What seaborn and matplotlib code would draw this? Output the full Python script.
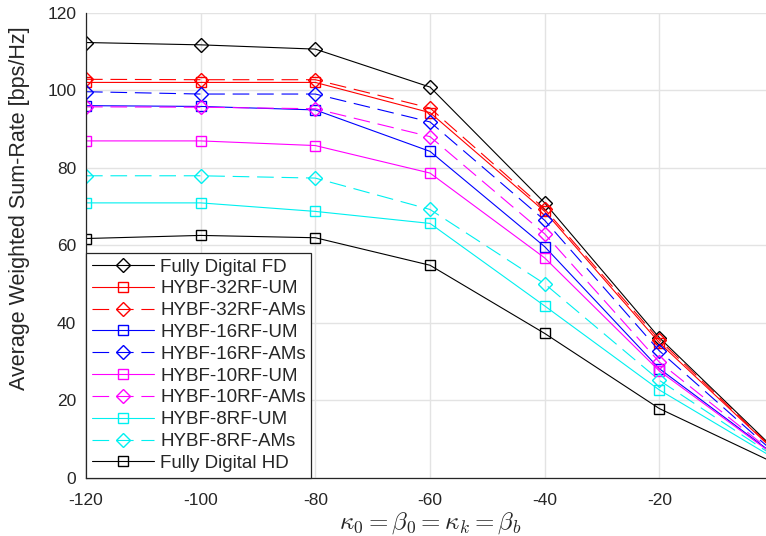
import matplotlib
matplotlib.use('Agg')
import matplotlib.pyplot as plt
import seaborn as sns

kappa = [-120, -100, -80, -60, -40, -20, 0]

fd = [112.3, 111.7, 110.6, 100.8, 70.9, 36.1, 7.5]
hybf32_um = [102.0, 102.0, 102.0, 94.2, 68.7, 34.8, 7.0]
hybf32_ams = [102.8, 102.7, 102.7, 95.4, 69.3, 35.5, 7.2]
hybf16_um = [96.0, 95.8, 94.9, 84.2, 59.6, 28.1, 6.0]
hybf16_ams = [99.6, 99.0, 99.0, 91.8, 66.4, 32.7, 6.5]
hybf10_um = [86.9, 86.9, 85.7, 78.6, 56.7, 27.5, 5.8]
hybf10_ams = [95.7, 95.6, 95.2, 88.0, 62.9, 29.8, 6.2]
hybf8_um = [70.9, 70.9, 68.7, 65.6, 44.3, 22.6, 5.0]
hybf8_ams = [77.9, 77.9, 77.3, 69.2, 50.0, 25.1, 5.5]
hd = [61.7, 62.5, 61.9, 54.8, 37.2, 17.8, 3.8]

labels = ['Fully Digital FD', 'HYBF-32RF-UM', 'HYBF-32RF-AMs', 'HYBF-16RF-UM',
          'HYBF-16RF-AMs', 'HYBF-10RF-UM', 'HYBF-10RF-AMs', 'HYBF-8RF-UM',
          'HYBF-8RF-AMs', 'Fully Digital HD']
series = [fd, hybf32_um, hybf32_ams, hybf16_um, hybf16_ams,
          hybf10_um, hybf10_ams, hybf8_um, hybf8_ams, hd]
colors = ['black', '#ff0000', '#ff0000', '#0000ff', '#0000ff',
          '#ff00ff', '#ff00ff', '#00f0f0', '#00f0f0', 'black']
markers = ['D', 's', 'D', 's', 'D', 's', 'D', 's', 'D', 's']
dash = (0, (15, 7))
styles = ['-', '-', dash, '-', dash, '-', dash, '-', dash, '-']

sns.set_style('white')
plt.rcParams['font.family'] = ['Liberation Sans', 'DejaVu Sans']
plt.rcParams['mathtext.fontset'] = 'cm'
plt.rcParams['axes.unicode_minus'] = False

fig = plt.figure(figsize=(7.66, 5.36), dpi=100)
ax = fig.add_axes([86 / 766, 1 - 477.5 / 536, (774 - 86) / 766, (477.5 - 12.7) / 536])

for y, lab, c, m, ls in zip(series, labels, colors, markers, styles):
    sns.lineplot(x=kappa, y=y, ax=ax, color=c, marker=m, linestyle=ls, linewidth=0.8,
                 markersize=7.2, markerfacecolor='none',
                 markeredgecolor=c, markeredgewidth=1.0, label=lab)

ax.set_xlim(-120, 0)
ax.set_ylim(0, 120)
ax.set_xticks([-120, -100, -80, -60, -40, -20])
ax.set_yticks([0, 20, 40, 60, 80, 100, 120])
ax.grid(True, color='#e3e3e3', linewidth=1.0)
ax.tick_params(direction='in', length=4, labelsize=12.5, colors='#262626', width=0.8, pad=7)
ax.tick_params(axis='x', pad=11)
for s in ['top', 'right']:
    ax.spines[s].set_visible(False)
for s in ['left', 'bottom']:
    ax.spines[s].set_color('#262626')
    ax.spines[s].set_linewidth(0.9)

ax.set_xlabel(r'$\kappa_0 = \beta_0 = \kappa_k = \beta_b$', fontsize=18, labelpad=2)
ax.set_ylabel('Average Weighted Sum-Rate [bps/Hz]', fontsize=15.5, color='#262626')
ax.yaxis.set_label_coords(-0.082, 0.58)

leg = ax.legend(loc='lower left', bbox_to_anchor=(0, 0), borderaxespad=0, fontsize=13.5,
                handlelength=3.3, handletextpad=0.35, labelspacing=0.25, borderpad=0.3,
                fancybox=False, framealpha=1)
leg.get_frame().set_edgecolor('#262626')
leg.get_frame().set_linewidth(0.9)

plt.savefig('out.png', dpi=100)
